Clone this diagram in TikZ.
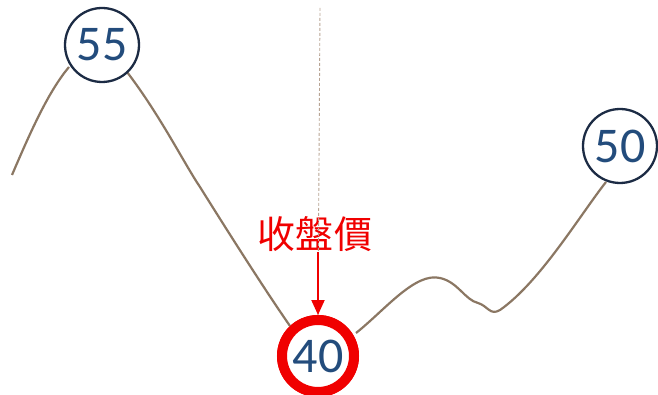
\documentclass[tikz,border=0pt]{standalone}
\usepackage{fontspec}
\setmainfont{Carlito}
\newfontfamily\cjk{Noto Sans CJK TC}
\usetikzlibrary{arrows.meta}
\definecolor{curvec}{HTML}{8B7763}
\definecolor{navy}{HTML}{1C2B44}
\definecolor{numc}{HTML}{234C7C}
\definecolor{dashc}{HTML}{B8A494}
\definecolor{redc}{HTML}{F00000}
\begin{document}
\begin{tikzpicture}[x=1pt,y=-1pt,
  curve/.style={draw=curvec,line width=2.2pt},
  valnode/.style={circle,draw=navy,fill=white,line width=2.3pt,minimum size=74pt,inner sep=0pt,
    text=numc,font=\fontsize{50}{50}\selectfont},
  closenode/.style={circle,draw=redc,fill=white,line width=10pt,minimum size=72pt,inner sep=0pt,
    text=numc,font=\fontsize{50}{50}\selectfont},
  lbl/.style={text=redc,font=\cjk\fontsize{38}{38}\selectfont,inner sep=0pt},
  guide/.style={draw=dashc,line width=0.9pt,dash pattern=on 3pt off 2pt}]
\useasboundingbox (0,0) rectangle (658,395);
\coordinate (top) at (320,8);
\coordinate (s) at (12,175);
\node[lbl] (l) at (315,234) {收\hspace{1pt}盤\hspace{1pt}價};
\node[closenode] (c40) at (318,356) {};
\draw[guide] (top) -- (c40.north);
\draw[curve] (s) .. controls (30,133) and (48,92) .. (69,67);
\draw[curve] (127,72) .. controls (160,115) and (185,165) .. (200,187)
   .. controls (230,235) and (265,290) .. (290,326);
\draw[curve] (356,333) .. controls (385,310) and (415,272) .. (440,278)
   .. controls (458,282) and (465,300) .. (478,303)
   .. controls (488,306) and (490,316) .. (500,310)
   .. controls (540,282) and (580,215) .. (606,182);
\node[valnode] (c55) at (102,45) {55};
\node[valnode] (c50) at (620,146) {50};
\node[closenode] at (318,356) {40};
\draw[redc,line width=2pt,-{Triangle[width=13pt,length=15pt]}] (318,252) -- (c40.north);
\end{tikzpicture}
\end{document}
